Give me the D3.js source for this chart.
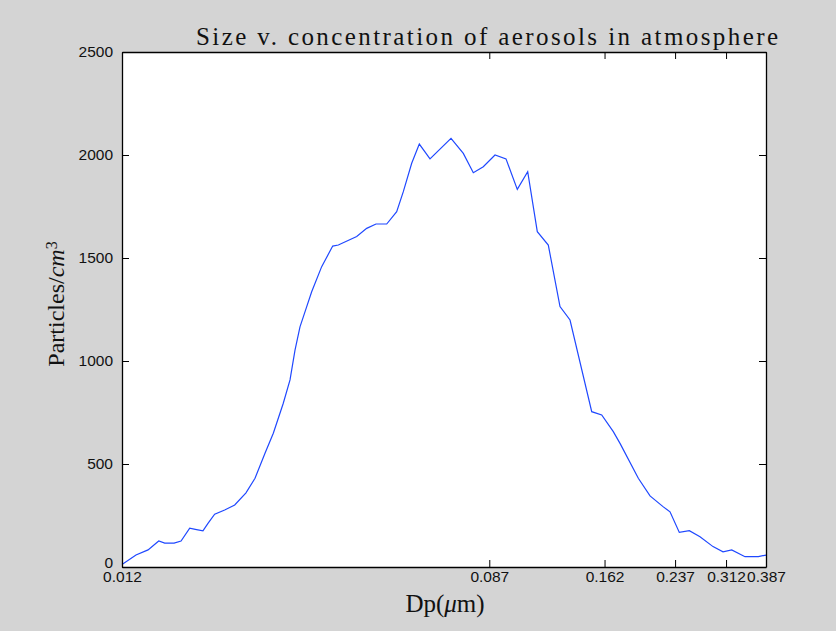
<!DOCTYPE html>
<meta charset="utf-8">
<style>
  body { margin: 0; background: #d4d4d4; }
  svg { display: block; }
</style>
<script src="https://d3js.org/d3.v7.min.js"></script>
<body>
<div id="chart"></div>
<script>

// particle diameter (um) and concentration (particles/cm^3)
var dp = [0.0120, 0.01294, 0.01381, 0.01463, 0.01511, 0.01589, 0.01650, 0.01729,
          0.01782, 0.01857, 0.01908, 0.01978, 0.02088, 0.02204, 0.02342, 0.02459,
          0.02595, 0.02714, 0.02864, 0.02970, 0.03051, 0.03134, 0.03250, 0.03338,
          0.03523, 0.03739, 0.03854, 0.04256, 0.04491, 0.04722, 0.05003, 0.05280,
          0.05472, 0.05725, 0.05965, 0.06319, 0.07077, 0.07563, 0.07982, 0.08424,
          0.08973, 0.09521, 0.10119, 0.10703, 0.11272, 0.11961, 0.12740, 0.13447,
          0.15117, 0.15954, 0.16984, 0.17610, 0.19437, 0.20703, 0.22207, 0.23061,
          0.24247, 0.25591, 0.27111, 0.29080, 0.30692, 0.32166, 0.34559, 0.37129,
          0.387];
var conc = [12, 58, 83, 126, 116, 116, 126, 188,
            183, 175, 212, 256, 277, 301, 360, 431,
            552, 649, 795, 908, 1053, 1166, 1264, 1336,
            1458, 1558, 1563, 1604, 1644, 1665, 1665, 1725,
            1822, 1960, 2053, 1981, 2081, 2008, 1914, 1943,
            2000, 1981, 1833, 1919, 1628, 1563, 1264, 1199,
            754, 738, 657, 600, 431, 345, 293, 268,
            168, 176, 147, 99, 74, 83, 50, 50,
            58];

var xTicks = [0.012, 0.087, 0.162, 0.237, 0.312, 0.387];
var yTicks = [0, 500, 1000, 1500, 2000, 2500];

var W = 836, H = 631;
var margin = {left: 122, right: 766, top: 52, bottom: 567};
var tick = 7;

var svg = d3.select("#chart").append("svg")
    .attr("width", W)
    .attr("height", H);

svg.append("rect")
    .attr("width", W).attr("height", H)
    .attr("fill", "#d4d4d4");

var x = d3.scaleLog().domain([0.012, 0.387]).range([margin.left, margin.right]);
var y = d3.scaleLinear().domain([0, 2500]).range([margin.bottom, margin.top]);

// plot area
svg.append("rect")
    .attr("x", margin.left).attr("y", margin.top)
    .attr("width", margin.right - margin.left)
    .attr("height", margin.bottom - margin.top)
    .attr("fill", "#fff");

var data = dp.map(function(d, i) { return [d, conc[i]]; });

svg.append("path")
    .datum(data)
    .attr("fill", "none")
    .attr("stroke", "#1f48ff")
    .attr("stroke-width", 1.2)
    .attr("d", d3.line()
      .x(function(d) { return x(d[0]); })
      .y(function(d) { return y(d[1]); }));

// axes, ticks pointing inside like matlab
function styleAxis(g) {
  g.select(".domain").attr("stroke", "#000").attr("stroke-width", 1.3);
  g.selectAll(".tick line").attr("stroke", "#000");
  g.selectAll(".tick text")
    .attr("fill", "#111")
    .style("font-family", "Liberation Sans, Arial, sans-serif")
    .style("font-size", "15.5px");
}

svg.append("g")
    .attr("transform", "translate(0," + margin.bottom + ")")
    .call(d3.axisBottom(x).tickValues(xTicks).tickSize(-tick).tickSizeOuter(0)
      .tickPadding(4).tickFormat(d3.format(".3f")))
    .call(styleAxis);

svg.append("g")
    .attr("transform", "translate(0," + margin.top + ")")
    .call(d3.axisTop(x).tickValues(xTicks).tickSize(-tick).tickSizeOuter(0)
      .tickFormat(""))
    .call(styleAxis);

var yAxis = svg.append("g")
    .attr("transform", "translate(" + margin.left + ",0)")
    .call(d3.axisLeft(y).tickValues(yTicks).tickSize(-tick).tickSizeOuter(0)
      .tickPadding(9).tickFormat(d3.format("d")))
    .call(styleAxis);

svg.append("g")
    .attr("transform", "translate(" + margin.right + ",0)")
    .call(d3.axisRight(y).tickValues(yTicks).tickSize(-tick).tickSizeOuter(0)
      .tickFormat(""))
    .call(styleAxis);

// 0 label sits a bit higher than the others
yAxis.selectAll(".tick text").filter(function(d) { return d === 0; })
    .attr("dy", "0.05em");

// title and axis labels
var serif = "Liberation Serif, Times New Roman, serif";

svg.append("text")
    .attr("x", 196).attr("y", 45)
    .attr("textLength", 582)
    .attr("lengthAdjust", "spacing")
    .style("font-family", serif)
    .style("font-size", "25px")
    .attr("fill", "#111")
    .text("Size v. concentration of aerosols in atmosphere");

var xl = svg.append("text")
    .attr("x", 445).attr("y", 612)
    .attr("text-anchor", "middle")
    .style("font-family", serif)
    .style("font-size", "25px")
    .attr("fill", "#111");
xl.append("tspan").text("Dp(");
xl.append("tspan").style("font-style", "italic").text("\u03bc");
xl.append("tspan").text("m)");

var yl = svg.append("text")
    .attr("transform", "translate(64,304) rotate(-90)")
    .attr("text-anchor", "middle")
    .style("font-family", serif)
    .style("font-size", "24px")
    .attr("fill", "#111");
yl.append("tspan").text("Particles/");
yl.append("tspan").style("font-style", "italic").text("cm");
yl.append("tspan").attr("dy", "-0.45em").style("font-size", "16px").text("3");

</script>
</body>
